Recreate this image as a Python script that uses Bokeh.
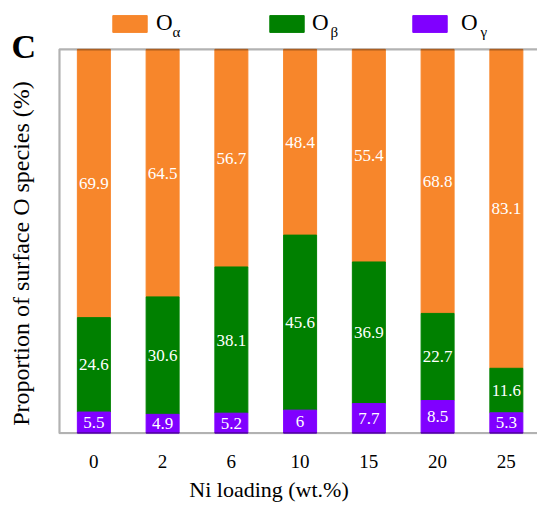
import numpy as np
from bokeh.plotting import figure
from bokeh.models import (ColumnDataSource, FixedTicker, Legend, LegendItem, Label,
                          BoxAnnotation, Range1d)
from bokeh.core.properties import value
from bokeh.embed import file_html
from bokeh.resources import INLINE

# ---- data ----
categories = ["0", "2", "6", "10", "15", "20", "25"]
o_gamma = [5.5, 4.9, 5.2, 6, 7.7, 8.5, 5.3]
o_beta = [24.6, 30.6, 38.1, 45.6, 36.9, 22.7, 11.6]
o_alpha = [69.9, 64.5, 56.7, 48.4, 55.4, 68.8, 83.1]
series_names = ["α", "β", "γ"]
y_title = "Proportion of surface O species (%)"
x_title = "Ni loading (wt.%)"
panel_tag = "C"

FONT = "Liberation Serif"
C_ALPHA = "#F7862B"
C_BETA = "#008000"
C_GAMMA = "#8000FF"

x = np.arange(len(categories))
g = np.array(o_gamma, dtype=float)
b = np.array(o_beta, dtype=float)
a = np.array(o_alpha, dtype=float)

src = ColumnDataSource(dict(
    x=x,
    g0=np.zeros_like(g), g1=g,
    b0=g, b1=g + b,
    a0=g + b, a1=g + b + a,
    gm=g / 2, bm=g + b / 2, am=g + b + a / 2,
    gt=[f"{v:g}" for v in o_gamma],
    bt=[f"{v:g}" for v in o_beta],
    at=[f"{v:g}" for v in o_alpha],
))

# frame spans the whole canvas except the bottom axis panel
p = figure(width=537, height=507, x_range=Range1d(-1.358, 6.453), y_range=Range1d(-0.35, 112.73),
           output_backend="svg", toolbar_location=None, y_axis_location=None,
           min_border_left=0, min_border_right=0, min_border_top=0, min_border_bottom=73)
p.outline_line_color = None
p.xgrid.visible = False
p.ygrid.visible = False

W = 0.48
ra = p.vbar(x="x", bottom="a0", top="a1", width=W, source=src, fill_color=C_ALPHA, line_color=C_ALPHA)
rb = p.vbar(x="x", bottom="b0", top="b1", width=W, source=src, fill_color=C_BETA, line_color=C_BETA)
rg = p.vbar(x="x", bottom="g0", top="g1", width=W, source=src, fill_color=C_GAMMA, line_color=C_GAMMA)

for ycol, tcol in (("gm", "gt"), ("bm", "bt"), ("am", "at")):
    p.text(x="x", y=ycol, text=tcol, source=src, text_align="center", text_baseline="middle",
           text_color="white", text_font=value(FONT), text_font_size="17px")

# plot-area border (left, top, bottom; right side lies beyond the canvas)
p.add_layout(BoxAnnotation(left=-0.5, right=8, bottom=0, top=100, fill_alpha=0,
                           line_color="black", line_width=2.2))

p.xaxis.ticker = FixedTicker(ticks=list(x))
p.xaxis.major_label_overrides = {int(i): c for i, c in zip(x, categories)}
p.xaxis.axis_line_color = None
p.xaxis.major_tick_line_color = None
p.xaxis.minor_tick_line_color = None
p.xaxis.major_label_text_font = FONT
p.xaxis.major_label_text_font_size = "19px"
p.xaxis.major_label_text_color = "black"
p.xaxis.major_label_standoff = 14
p.xaxis.axis_label = x_title
p.xaxis.axis_label_text_font = FONT
p.xaxis.axis_label_text_font_style = "normal"
p.xaxis.axis_label_text_font_size = "22px"
p.xaxis.axis_label_text_color = "black"
p.xaxis.axis_label_standoff = 6

# y axis title (frame-relative screen units: origin at frame bottom-left)
FB = 434  # canvas y of frame bottom
BL = 12   # correction for alphabetic baseline placement
p.add_layout(Label(x=20, y=FB - 253, x_units="screen", y_units="screen", text=y_title,
                   angle=np.pi / 2, text_align="center", text_baseline="middle",
                   text_font=FONT, text_font_size="24px", text_color="black"))

# panel tag
p.add_layout(Label(x=11, y=FB - 58 + BL, x_units="screen", y_units="screen", text=panel_tag,
                   text_baseline="alphabetic", text_font=FONT, text_font_size="34px",
                   text_font_style="bold", text_color="black"))

# legend: one entry per series, with subscript greek letters
for r, gx, st, s, sx in zip([ra, rb, rg], [108, 265, 408], [5, 4, 10], series_names, [172, 330, 480]):
    lg = Legend(items=[LegendItem(label="O", renderers=[r])],
                location=(gx, FB - 36), orientation="horizontal",
                glyph_width=43, glyph_height=21, label_standoff=st,
                label_text_font=FONT, label_text_font_size="23px", label_text_color="black",
                padding=0, margin=0, border_line_color=None, background_fill_alpha=0)
    p.add_layout(lg, "center")
    p.add_layout(Label(x=sx, y=FB - 35 + 4, x_units="screen", y_units="screen", text=s,
                       text_baseline="alphabetic", text_font=FONT, text_font_size="15px",
                       text_color="black"))

open("out.html", "w").write(file_html(p, INLINE))
